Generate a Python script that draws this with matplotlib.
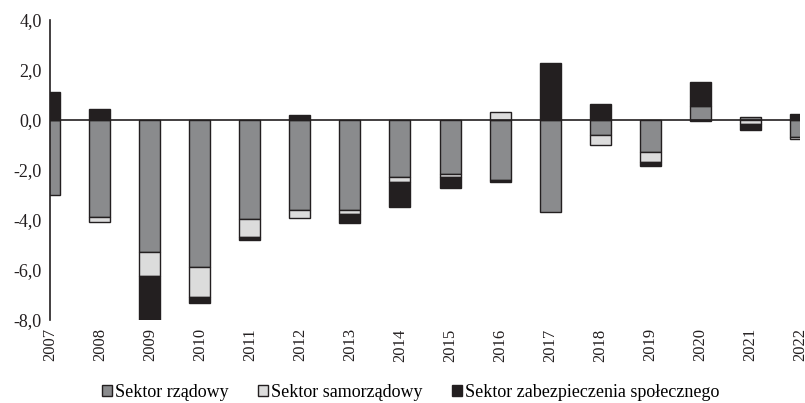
import numpy as np
import matplotlib.pyplot as plt

plt.rcParams['font.family'] = ['Liberation Serif', 'DejaVu Serif']

years = [str(y) for y in range(2007, 2023)]
rzadowy = [-3.0, -3.9, -5.28, -5.88, -3.98, -3.6, -3.6, -2.29, -2.17, -2.4, -3.7, -0.6, -1.28, 0.56, 0.13, -0.67]
samorzadowy = [0.0, -0.2, -0.96, -1.2, -0.7, -0.33, -0.16, -0.18, -0.1, 0.3, 0.05, -0.4, -0.39, -0.05, -0.15, -0.1]
zabezpieczenia = [1.12, 0.44, -1.8, -0.25, -0.12, 0.2, -0.35, -1.03, -0.46, -0.1, 2.24, 0.63, -0.16, 0.97, -0.25, 0.23]

series = [
    ("Sektor rządowy", rzadowy, "#8a8b8d"),
    ("Sektor samorządowy", samorzadowy, "#dcdcdc"),
    ("Sektor zabezpieczenia społecznego", zabezpieczenia, "#231f20"),
]

fig = plt.figure(figsize=(8.05, 4.03), dpi=100)
ax = fig.add_axes([0.0621, 0.206, 0.9317, 0.7444])

x = np.arange(len(years))
pos_base = np.zeros(len(years))
neg_base = np.zeros(len(years))
for name, vals, col in series:
    v = np.array(vals)
    base = np.where(v >= 0, pos_base, neg_base)
    ax.bar(x, v, 0.42, bottom=base, color=col, edgecolor="#231f20",
           linewidth=1.0, label=name, zorder=2)
    pos_base += np.where(v >= 0, v, 0)
    neg_base += np.where(v < 0, v, 0)

ax.axhline(0, color="#231f20", linewidth=1.2, zorder=3)
ax.set_xlim(0, len(years) - 1)
ax.set_ylim(-8, 4)
ax.set_yticks(np.arange(-8, 5, 2))
ax.set_yticklabels([f"{t:.1f}".replace(".", ",") for t in np.arange(-8, 5, 2)], fontsize=13)
ax.set_xticks(x)
ax.set_xticklabels(years, rotation=90, fontsize=12)
ax.tick_params(length=0, pad=6, colors="#231f20")
for s in ["top", "right", "bottom"]:
    ax.spines[s].set_visible(False)
ax.spines["left"].set_color("#231f20")
ax.spines["left"].set_linewidth(1.2)
ax.spines["left"].set_zorder(4)

fig.legend(loc="lower center", bbox_to_anchor=(0.51, -0.035), ncol=3, frameon=False,
           fontsize=13, handlelength=0.6, handleheight=0.6, handletextpad=0.15,
           columnspacing=1.6)

fig.savefig("out.png", dpi=100)
